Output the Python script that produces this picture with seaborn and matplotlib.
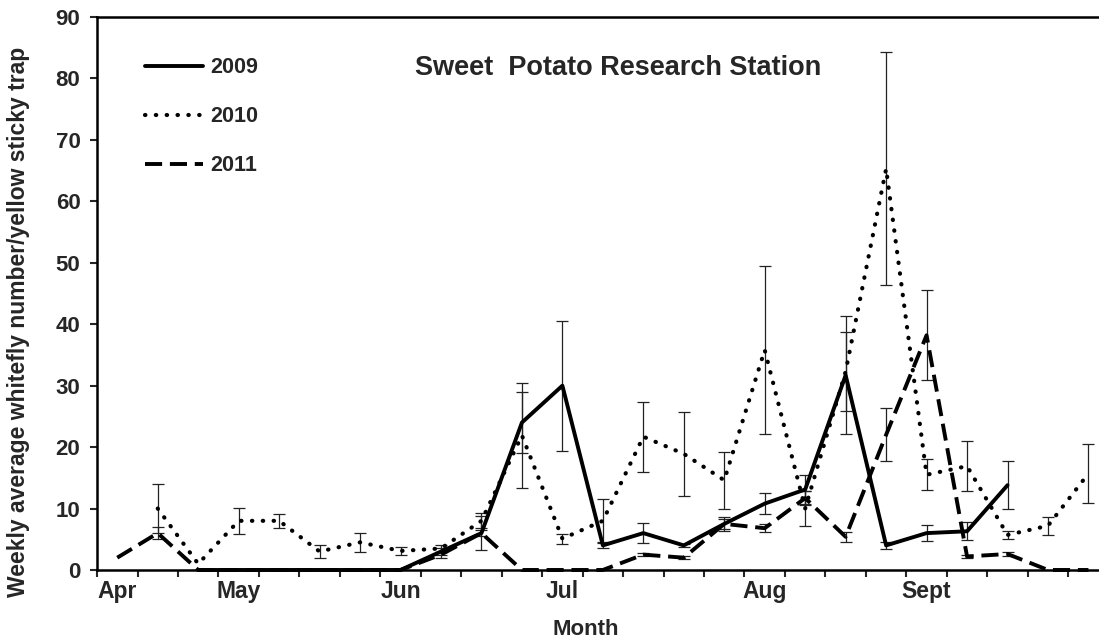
import numpy as np
import pandas as pd
import matplotlib
matplotlib.use("Agg")
import matplotlib.pyplot as plt
import seaborn as sns

nan = np.nan

# weekly sampling dates, Apr .. end of Sept
weeks = np.arange(25)
month_pos = [0, 3, 7, 11, 16, 20]
month_labels = ['Apr', 'May', 'Jun', 'Jul', 'Aug', 'Sept']

# weekly mean whitefly counts and standard errors per year
y2009 = [nan, nan, 0, 0, 0, 0, 0, 0, 3, 6, 24, 30, 4, 6, 4, 7.5, 10.8, 13.1, 31.7, 4, 6, 6.3, 13.8, nan, nan]
e2009 = [nan, nan, 0, 0, 0, 0, 0, 0, 0.5, 2.8, 5, 10.6, 0.4, 1.6, 0.3, 0.8, 1.75, 2.4, 9.6, 0.6, 1.35, 1.5, 3.9, nan, nan]

y2010 = [nan, 10, 1, 8, 8, 3, 4.5, 3.1, 3.5, 8, 21.9, 5.1, 8, 21.7, 18.9, 14.6, 35.8, 10, 32.3, 65.3, 15.5, 16.9, 5.7, 7.2, 15.7]
e2010 = [nan, 4, 0, 2.1, 1.1, 1, 1.5, 0.6, 0.6, 1.2, 8.5, 0.8, 3.5, 5.7, 6.8, 4.6, 13.7, 2.8, 6.4, 19, 2.5, 4.1, 0.6, 1.5, 4.8]

y2011 = [2, 6, 0, 0, 0, 0, 0, 0, 2.5, 6, 0, 0, 0, 2.5, 2, 7.5, 6.8, 11.7, 5.4, 22, 38.2, 2.2, 2.6, 0, 0]
e2011 = [0, 1, 0, 0, 0, 0, 0, 0, 0.5, 0.5, 0, 0, 0, 0.3, 0.2, 1.2, 0.7, 1.2, 0.8, 4.3, 7.3, 0.3, 0.3, 0, 0]

sns.set_style("ticks")
plt.rcParams['font.family'] = ['Liberation Sans', 'DejaVu Sans']
plt.rcParams['font.weight'] = 'bold'

fig = plt.figure(figsize=(10.99, 6.41), dpi=100)
# plot area runs a bit past the right edge of the picture, like the original
ax = fig.add_axes([0.0883, 0.1108, 0.9205, 0.8627])

series = [
    ('2009', y2009, e2009, dict(linestyle='-', linewidth=2.8)),
    ('2010', y2010, e2010, dict(linestyle=(0, (0.1, 2.5)), linewidth=3.0, dash_capstyle='round')),
    ('2011', y2011, e2011, dict(linestyle=(0, (4.4, 2.0)), linewidth=2.8)),
]

for year, vals, errs, style in series:
    vals = np.array(vals, dtype=float)
    errs = np.array(errs, dtype=float)
    df = pd.DataFrame({'week': weeks, 'count': vals})
    sns.lineplot(data=df, x='week', y='count', ax=ax, color='black',
                 label=year, clip_on=False, zorder=3, **style)
    m = np.isfinite(vals) & np.isfinite(errs) & (errs > 0)
    ax.errorbar(weeks[m], vals[m], yerr=errs[m], fmt='none', ecolor='#222222',
                elinewidth=0.9, capsize=4.3, capthick=0.9, zorder=2)

ax.set_xlim(-0.5, 24.5)
ax.set_ylim(0, 90)
ax.set_yticks(range(0, 91, 10))
ax.set_xticks(month_pos)
ax.set_xticklabels(month_labels)
ax.set_xticks(np.arange(-0.5, 25, 1), minor=True)
ax.tick_params(axis='x', which='major', length=0, pad=7, labelsize=16.5)
ax.tick_params(axis='x', which='minor', length=5, width=1.5, direction='out')
ax.tick_params(axis='y', length=5, width=1.5, pad=7, labelsize=16)
for lab in ax.get_xticklabels() + ax.get_yticklabels():
    lab.set_fontweight('bold')

for side in ['left', 'bottom', 'top']:
    ax.spines[side].set_linewidth(1.8)
    ax.spines[side].set_color('black')
ax.spines['right'].set_visible(False)

ax.set_xlabel('Month', fontsize=16, fontweight='bold', va='center')
ax.xaxis.set_label_coords(0.4834, -0.1085)
ax.set_ylabel('Weekly average whitefly number/yellow sticky trap', fontsize=16.5,
              fontweight='bold', va='center')
ax.yaxis.set_label_coords(-0.078, 0.448)

ax.text(0.3144, 0.908, 'Sweet  Potato Research Station', transform=ax.transAxes,
        ha='left', va='center', fontsize=19.5, fontweight='bold')

ax.legend(loc='upper left', bbox_to_anchor=(0.0474, 0.927), frameon=False,
          borderaxespad=0, borderpad=0, handlelength=2.7, handletextpad=0.35,
          labelspacing=1.3, prop={'size': 15.5, 'weight': 'bold'})

fig.savefig('out.png', dpi=100)
plt.close(fig)
